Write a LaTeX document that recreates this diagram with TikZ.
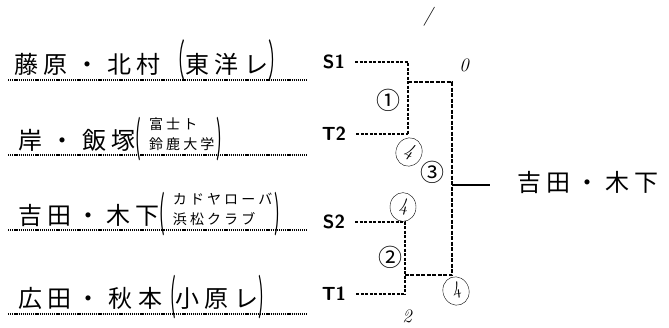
\documentclass[tikz,border=0pt]{standalone}
\usepackage{fontspec}
\usepackage{graphicx}
\newfontfamily\jpfont{Noto Sans CJK JP}
\newfontfamily\jphand[LetterSpace=22]{Noto Sans CJK JP}
\usetikzlibrary{positioning, shapes.geometric}

\newcommand{\twoline}[2]{{\fontsize{14}{20}\selectfont\begin{tabular}[b]{@{}l@{}}#1\\#2\end{tabular}}}
\newcommand{\tallparen}[1]{\raisebox{-3pt}{\scalebox{0.7}[1.8]{#1}}}
\newcommand{\gap}{\hspace{8pt}}

\begin{document}
\begin{tikzpicture}[x=1pt,y=-1pt,
        seed/.style={font=\sffamily\bfseries\fontsize{19}{19}\selectfont,inner sep=0pt},
        team/.style={font=\jphand\fontsize{24}{24}\selectfont,anchor=base west,inner sep=0pt},
        entry/.style={dash pattern=on 3pt off 1.5pt,line width=1.6pt},
        bracket/.style={dash pattern=on 4pt off 1.5pt,line width=1.6pt},
        underline/.style={dash pattern=on 1.2pt off 0.9pt,line width=1.8pt},
        game/.style={font=\jpfont\fontsize{24}{24}\selectfont,inner sep=0pt},
        score/.style={ellipse,draw,thin,inner sep=2pt,minimum width=26pt,minimum height=22pt,font=\itshape\fontsize{19}{19}\selectfont},
        hand/.style={font=\itshape\fontsize{19}{19}\selectfont,inner sep=0pt}]
\useasboundingbox (0,0) rectangle (669,327);

% teams
\node[team] (n1) at (14,73) {藤原\gap{}・\gap{}北村\gap{}\tallparen{（}東洋レ\tallparen{）}};
\node[team] (n2) at (18,149) {岸\gap{}・\gap{}飯塚\tallparen{(}\kern8pt\twoline{富士ト}{鈴鹿大学}\kern2pt\tallparen{)}};
\node[team] (n3) at (18,224) {吉田・木下\tallparen{(}\kern8pt\twoline{カドヤローバ}{浜松クラブ}\kern2pt\tallparen{)}};
\node[team] (n4) at (18,307) {広田・\gap{}秋本\gap{}\tallparen{(}小原レ\tallparen{)}};

\draw[underline] (8,80) -- (308,80);
\draw[underline] (8,155) -- (308,155);
\draw[underline] (8,230) -- (308,230);
\draw[underline] (8,314) -- (308,314);

% seeds
\node[seed] (s1) at (334,62) {S1};
\node[seed] (t2) at (334,134) {T2};
\node[seed] (s2) at (334,222) {S2};
\node[seed] (t1) at (334,294) {T1};

\coordinate (a1) at (408,62);
\coordinate (a2) at (408,134);
\coordinate (a3) at (408,82);
\coordinate (b1) at (405,222);
\coordinate (b2) at (405,294);
\coordinate (b3) at (405,275);
\coordinate (c1) at (452,82);
\coordinate (c2) at (452,275);
\coordinate (c3) at (452,185);
\coordinate (w) at (490,185);

\draw[entry] ([xshift=10pt]s1.east) -- (a1) -- (a2);
\draw[entry] ([xshift=10pt]t2.east) -- (a2);
\draw[entry] ([xshift=10pt]s2.east) -- (b1) -- (b2);
\draw[entry] ([xshift=10pt]t1.east) -- (b2);
\draw[bracket] (a3) -- (c1) -- (c2) -- (b3);
\draw[line width=1.8pt] (c3) -- (w);

\node[team,anchor=west] (win) at (517,182) {吉田・木下};

% games and scores
\node[game] (g1) at (388,100) {①};
\node[game] (g3) at (432,172) {③};
\node[game] (g2) at (390,257) {②};
\node[score,rotate=-20] (p1) at (409,152) {4};
\node[score] (p2) at (403,207) {4};
\node[score,rotate=20] (p3) at (456,291) {4};
\node[hand] (r1) at (428,17) {/};
\node[hand] (r0) at (464,65) {0};
\node[hand] (r2) at (407,316) {2};
\end{tikzpicture}
\end{document}
